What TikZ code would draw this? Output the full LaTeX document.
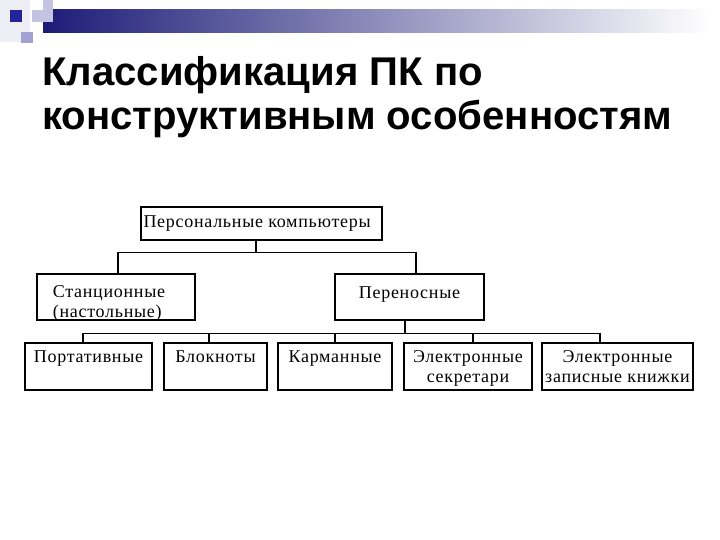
\documentclass[tikz,border=0pt]{standalone}
\usepackage{fontspec}
\setmainfont[LetterSpace=4]{Liberation Serif}
\newfontfamily\headfont{Liberation Sans}
\definecolor{barnavy}{HTML}{1C1C78}
\definecolor{barmid}{HTML}{A0A0BC}
\definecolor{decodark}{HTML}{23239A}
\definecolor{decolav}{HTML}{C4C4E2}
\definecolor{decomid}{HTML}{A2A2D2}
\definecolor{decopale}{HTML}{EEEEF6}
\newcommand{\boxlines}[3]{\begin{tabular}[t]{@{}#1@{}}#2\\#3\end{tabular}}

\begin{document}
\begin{tikzpicture}[x=1pt,y=-1pt]
\tikzstyle{every node}=[inner sep=0pt];
\tikzstyle{heading}=[anchor=base west,font=\headfont\bfseries\fontsize{40.1}{44}\selectfont];
\tikzstyle{box}=[draw,line width=1.6pt,font=\fontsize{18}{20}\selectfont,text height=14pt];
\tikzstyle{lower}=[box,minimum height=47pt,text depth=23pt];
\tikzstyle{conn}=[line width=1.2pt];

\useasboundingbox (0,0) rectangle (720,540);

  \fill[decopale] (0,0) rectangle (30,42);
  \shade[left color=barnavy,middle color=barmid,right color=white] (43,10) rectangle (710,33);
  \fill[decolav] (32,10) rectangle (53,22);
  \fill[decolav] (43,0) rectangle (53,10);
  \fill[decodark] (10,10) rectangle (22,22);
  \fill[decomid] (21,32) rectangle (33,43);

  \node[heading] (title1) at (42,86) {Классификация ПК по};
  \node[heading] (title2) at (42,130) {конструктивным особенностям};

  \node[box,minimum width=241pt,minimum height=33pt,text height=17pt,text depth=8pt] (pc) at (261.5,223.5) {\makebox[236pt][l]{Персональные компьютеры}};
  \node[box,minimum width=158pt,minimum height=46pt,text depth=14pt] (stac) at (116,297) {\boxlines{l@{\hspace{14pt}}}{Станционные}{(настольные)}};
  \node[box,minimum width=149pt,minimum height=46pt,text depth=12pt] (pereno) at (409.5,297) {Переносные};

  \node[lower,minimum width=127pt] (port) at (88.5,366.5) {Портативные};
  \node[lower,minimum width=103pt] (blok) at (215.5,366.5) {Блокноты};
  \node[lower,minimum width=114pt] (karm) at (335,366.5) {Карманные};
  \node[lower,minimum width=128pt] (sekr) at (468,366.5) {\boxlines{c}{Электронные}{секретари}};
  \node[lower,minimum width=151pt] (zapis) at (617.5,366.5) {\boxlines{c}{Электронные}{записные книжки}};

\foreach \to/\dx in {stac/2, pereno/6.5}
\draw[conn] ([xshift=-5.5pt]pc.south) -- ++(0,12) -| ([xshift=\dx pt]\to.north);

\draw[conn] ([xshift=-4.5pt]pereno.south) -- ++(0,13) coordinate (bus);
\foreach \to/\dx in {port/-5.5, blok/-6.5, karm/0, sekr/5, zapis/-17.5}
\draw[conn] (bus) -| ([xshift=\dx pt]\to.north);

\end{tikzpicture}
\end{document}
